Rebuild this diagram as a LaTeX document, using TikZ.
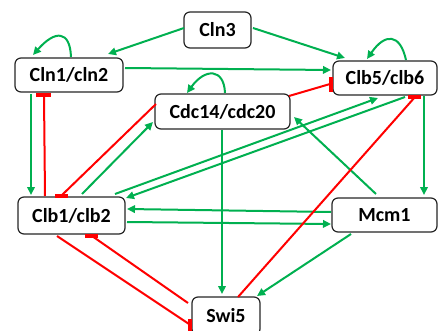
\documentclass[tikz,border=0pt]{standalone}
\usepackage{fontspec}
\setmainfont{Carlito}
\usetikzlibrary{arrows.meta,calc}
\definecolor{actgreen}{RGB}{0,176,80}
\definecolor{inhred}{RGB}{255,0,0}
\begin{document}
\begin{tikzpicture}[x=1pt,y=-1pt,
  gene/.style={draw=black!85, line width=1.2pt, rounded corners=6pt, fill=white,
    inner sep=0pt, outer sep=0pt, font=\bfseries\fontsize{20}{24}\selectfont},
  act/.style={draw=actgreen, line width=2pt, -{Triangle[length=8pt,width=7.5pt]}},
  inh/.style={draw=inhred, line width=2pt},
  bar/.style={fill=inhred}]
\clip (0,0) rectangle (438,331);
\useasboundingbox (0,0) rectangle (438,331);

% genes
\node[gene, minimum width=67pt,  minimum height=36pt] (cln3) at (217.5,30)   {Cln3};
\node[gene, minimum width=108pt, minimum height=34pt] (cln1) at (69,75)      {Cln1/cln2};
\node[gene, minimum width=135pt, minimum height=35pt] (cdc)  at (222.5,111.5){Cdc14/cdc20};
\node[gene, minimum width=104pt, minimum height=34pt] (clb5) at (385,78)     {Clb5/clb6};
\node[gene, minimum width=107pt, minimum height=37pt] (clb1) at (71.5,215.5) {Clb1/clb2};
\node[gene, minimum width=105pt, minimum height=34pt] (mcm1) at (384.5,215)  {Mcm1};
\node[gene, minimum width=68pt,  minimum height=38pt] (swi5) at (226,316)    {Swi5};

% activations
\draw[act] ($(cln3.west)+(0,-2)$) -- ($(cln1.north)+(39,-4)$);
\draw[act] ($(cln3.east)+(2,-2)$) -- ($(clb5.north)+(-40,-3)$);
\draw[act] ($(cln1.north)+(2,-1)$) .. controls ($(cln1.north)+(1,-28)$) and ($(cln1.north)+(-14,-28)$) .. ($(cln1.north)+(-36,-3)$);
\draw[act] ($(clb5.north)+(21,-1)$) .. controls ($(clb5.north)+(15,-28)$) and ($(clb5.north)+(0,-28)$) .. ($(clb5.north)+(-18,-2)$);
\draw[act] ($(cdc.north)+(2.5,-1)$) .. controls ($(cdc.north)+(1.5,-26)$) and ($(cdc.north)+(-17.5,-26)$) .. ($(cdc.north)+(-35.5,-1)$);
\draw[act] ($(cln1.east)+(2,-7)$) -- ($(clb5.west)+(-2,-8)$);
\draw[act] ($(cln1.south)+(-38,2)$) -- ($(clb1.north)+(-40.5,-2)$);
\draw[act] ($(clb1.north)+(10.5,-3)$) -- ($(cdc.west)+(-2,10.5)$);
\draw[act] ($(clb1.north)+(43.5,-3)$) -- ($(clb5.south)+(-7,3)$);
\draw[act] ($(clb5.south)+(20,2)$) -- ($(clb1.east)+(1,-17.5)$);
\draw[act] ($(mcm1.north)+(-8.5,-4)$) -- ($(cdc.east)+(4,5.5)$);
\draw[act] ($(clb5.south)+(39,1)$) -- ($(mcm1.north)+(39.5,-3)$);
\draw[act] ($(mcm1.west)+(-1,-3)$) -- ($(clb1.east)+(2,-6.5)$);
\draw[act] ($(clb1.east)+(2,6.5)$) -- ($(mcm1.west)+(-1,9)$);
\draw[act] ($(cdc.south)+(-0.5,1)$) -- ($(swi5.north)+(-4,-3)$);
\draw[act] ($(mcm1.south)+(-33.5,2)$) -- ($(swi5.north)+(31,-1)$);

% inhibitions
\draw[inh] ($(clb1.north)+(-26.5,-1)$) -- ($(cln1.south)+(-25,4)$);
\fill[bar] ($(cln1.south)+(-33,1)$) rectangle ($(cln1.south)+(-18,5)$);
\draw[inh] ($(cdc.west)+(1,-7.5)$) -- ($(clb1.north)+(-9.5,-2)$);
\fill[bar] ($(clb1.north)+(-16.5,-3)$) rectangle ($(clb1.north)+(-3.5,1)$);
\draw[inh] ($(cdc.east)+(-1,-15.5)$) -- ($(clb5.west)+(-3,6)$);
\fill[bar] ($(clb5.west)+(-4,-1)$) rectangle ($(clb5.west)+(0,14)$);
\draw[inh] ($(swi5.north)+(12,0)$) -- ($(clb5.south)+(30,2)$);
\fill[bar] ($(clb5.south)+(23,0)$) rectangle ($(clb5.south)+(36,4)$);
\draw[inh] ($(clb1.south)+(-14.5,2)$) -- ($(swi5.west)+(-3,8)$);
\fill[bar] ($(swi5.west)+(-4,3)$) rectangle ($(swi5.west)+(0,17)$);
\draw[inh] ($(swi5.west)+(-4,-13)$) -- ($(clb1.south)+(20.5,2)$);
\fill[bar] ($(clb1.south)+(13.5,0)$) rectangle ($(clb1.south)+(26.5,4)$);
\end{tikzpicture}
\end{document}
